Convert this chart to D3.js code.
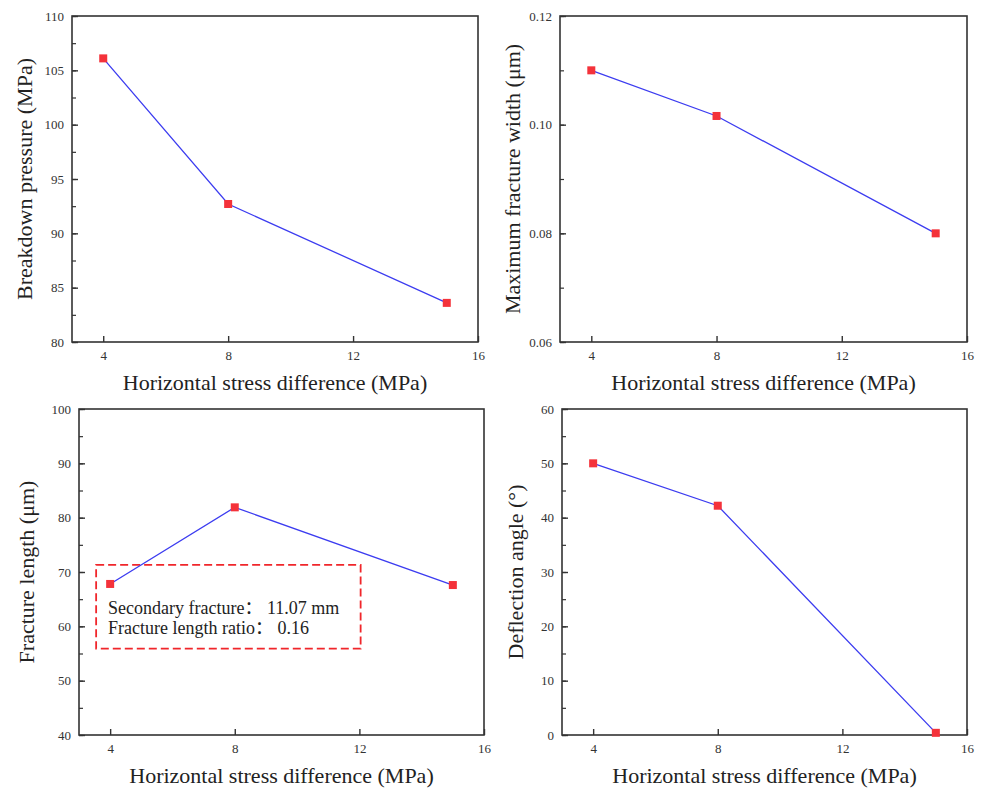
<!DOCTYPE html>
<html>
<head>
<meta charset="utf-8">
<style>
  body { margin: 0; background: #fff; }
  text { font-family: 'Liberation Serif', 'Times New Roman', serif; }
  .tick text { fill: #333; font-size: 13px; font-family: 'Liberation Serif', serif; }
  .title { fill: #222; font-size: 22px; }
  .note { fill: #222; font-size: 18px; font-family: 'Liberation Serif', 'Noto Sans CJK SC', serif; }
</style>
</head>
<body>
<svg width="984" height="788"></svg>
<script src="https://d3js.org/d3.v7.min.js"></script>
<script>
// data
var stressDiff = [4, 8, 15];
var breakdownPressure = [106.1, 92.7, 83.6];
var maxFractureWidth = [0.110, 0.1016, 0.080];
var fractureLength = [67.8, 81.9, 67.6];
var deflectionAngle = [50.0, 42.2, 0.4];

var xTicks = [4, 8, 12, 16];
var xTitle = "Horizontal stress difference (MPa)";
var noteLines = ["Secondary fracture\uff1a 11.07 mm", "Fracture length ratio\uff1a 0.16"];

var svg = d3.select("svg");

var panels = [
  {box: [72, 16, 478, 342], yDom: [80, 110], yTicks: [80, 85, 90, 95, 100, 105, 110], yMinor: 2.5,
   fmt: d3.format("d"), values: breakdownPressure, yTitle: "Breakdown pressure (MPa)", yTitleX: 24, xTitleY: 390},
  {box: [560, 16, 967, 342], yDom: [0.06, 0.12], yTicks: [0.06, 0.08, 0.10, 0.12], yMinor: 0.01,
   fmt: d3.format(".2f"), values: maxFractureWidth, yTitle: "Maximum fracture width (\u03bcm)", yTitleX: 512, xTitleY: 390},
  {box: [79, 409, 484, 735], yDom: [40, 100], yTicks: [40, 50, 60, 70, 80, 90, 100], yMinor: 5,
   fmt: d3.format("d"), values: fractureLength, yTitle: "Fracture length (\u03bcm)", yTitleX: 26, xTitleY: 783, note: true},
  {box: [562, 409, 967, 735], yDom: [0, 60], yTicks: [0, 10, 20, 30, 40, 50, 60], yMinor: 5,
   fmt: d3.format("d"), values: deflectionAngle, yTitle: "Deflection angle (\u00b0)", yTitleX: 515, xTitleY: 783}
];

panels.forEach(function(p) {
  var l = p.box[0], t = p.box[1], r = p.box[2], b = p.box[3];
  var x = d3.scaleLinear().domain([3, 16]).range([l, r]);
  var y = d3.scaleLinear().domain(p.yDom).range([b, t]);
  var g = svg.append("g");

  // minor ticks on the left axis, pointing in
  var minor = d3.range(p.yDom[0], p.yDom[1] + 1e-9, p.yMinor);
  g.append("g")
      .attr("transform", "translate(" + l + ",0)")
      .call(d3.axisRight(y).tickValues(minor).tickSize(4).tickFormat(""))
      .call(function(a) { a.select(".domain").remove(); a.selectAll("line").attr("stroke", "#333").attr("stroke-width", 1.2); });

  var ya = g.append("g")
      .attr("transform", "translate(" + l + ",0)")
      .call(d3.axisLeft(y).tickValues(p.yTicks).tickFormat(p.fmt).tickSizeInner(-6).tickSizeOuter(0).tickPadding(8));
  ya.select(".domain").remove();
  ya.selectAll("line").attr("stroke", "#333").attr("stroke-width", 1.4);

  var xa = g.append("g")
      .attr("transform", "translate(0," + b + ")")
      .call(d3.axisBottom(x).tickValues(xTicks).tickFormat(d3.format("d")).tickSizeInner(-6).tickSizeOuter(0).tickPadding(9));
  xa.select(".domain").remove();
  xa.selectAll("line").attr("stroke", "#333").attr("stroke-width", 1.4);

  // box frame
  g.append("rect")
      .attr("x", l).attr("y", t)
      .attr("width", r - l).attr("height", b - t)
      .attr("fill", "none").attr("stroke", "#333").attr("stroke-width", 1.6);

  if (p.note) {
    g.append("rect")
        .attr("x", x(3.55)).attr("y", y(71.3))
        .attr("width", x(12.04) - x(3.55)).attr("height", y(55.9) - y(71.3))
        .attr("fill", "none").attr("stroke", "#f0262b").attr("stroke-width", 1.8)
        .attr("stroke-dasharray", "8,4");
    g.selectAll(".note")
      .data(noteLines)
      .enter().append("text")
        .attr("class", "note")
        .attr("x", x(3.93))
        .attr("y", function(d, i) { return y(62.3) + i * 20.5; })
        .text(function(d) { return d; });
  }

  var pts = stressDiff.map(function(d, i) { return [d, p.values[i]]; });

  g.append("path")
      .datum(pts)
      .attr("fill", "none")
      .attr("stroke", "#3c3cf0")
      .attr("stroke-width", 1.3)
      .attr("d", d3.line().x(function(d) { return x(d[0]); }).y(function(d) { return y(d[1]); }));

  g.selectAll(".pt")
    .data(pts)
    .enter().append("rect")
      .attr("class", "pt")
      .attr("x", function(d) { return x(d[0]) - 4; })
      .attr("y", function(d) { return y(d[1]) - 4; })
      .attr("width", 8).attr("height", 8)
      .attr("fill", "#f4323a");

  g.append("text")
      .attr("class", "title")
      .attr("text-anchor", "middle")
      .attr("transform", "translate(" + p.yTitleX + "," + ((t + b) / 2) + ") rotate(-90)")
      .attr("dy", "0.35em")
      .text(p.yTitle);

  g.append("text")
      .attr("class", "title")
      .attr("text-anchor", "middle")
      .attr("x", (l + r) / 2)
      .attr("y", p.xTitleY)
      .text(xTitle);
});
</script>
</body>
</html>
